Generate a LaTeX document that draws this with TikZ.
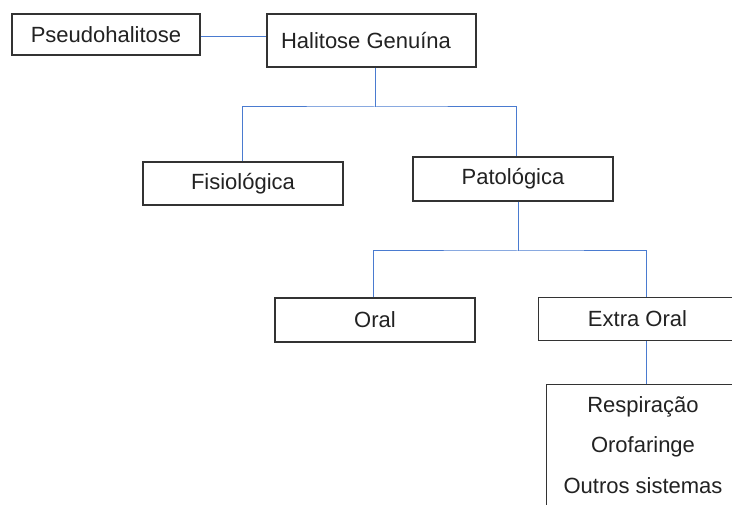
\documentclass[tikz,border=0pt]{standalone}
\usepackage{fontspec}
\setmainfont{Liberation Sans}
\definecolor{conncol}{HTML}{4A7BD0}
\definecolor{boxcol}{HTML}{333333}
\definecolor{txtcol}{HTML}{222222}
\begin{document}
\begin{tikzpicture}[x=1pt,y=-1pt,
  box/.style={draw=boxcol,line width=1.3pt,fill=white,inner sep=0pt,text=txtcol,font=\fontsize{22}{26}\selectfont},
  conn/.style={draw=conncol,line width=1pt},
  txt/.style={inner sep=0pt,text=txtcol,font=\fontsize{22}{26}\selectfont}]
\useasboundingbox (0,0) rectangle (732,505);
\clip (0,0) rectangle (732,505);
\fill[white] (0,0) rectangle (732,505);
% connectors
\coordinate (j1) at (375,107);
\coordinate (j2) at (518,251);
\node[box,minimum width=188pt,minimum height=41pt] (ps) at (106,34.5) {Pseudohalitose};
\node[box,minimum width=209pt,minimum height=53pt] (hg) at (371.5,40.5) {};
\node[txt] (hgt) at (366,40.5) {Halitose Genuína};
\node[box,minimum width=200pt,minimum height=43pt] (fis) at (243,183.5) {Fisiológica};
\node[box,minimum width=200pt,minimum height=44pt] (pat) at (513,179) {Patológica};
\node[box,minimum width=200pt,minimum height=44pt] (oral) at (375,320) {Oral};
\node[box,anchor=north west,minimum width=210pt,minimum height=43pt] (ext) at (538,297) {};
\node[txt] (extt) at (637.5,318.5) {Extra Oral};
\node[box,anchor=north west,minimum width=210pt,minimum height=140pt] (bot) at (546,384) {};
\node[txt] (r1) at (643,407) {Respiração};
\node[txt] (r2) at (643,447) {Orofaringe};
\node[txt] (r3) at (643,486) {Outros sistemas};
\begin{scope}[on background layer/.try]
\end{scope}
\draw[conn] (ps.east |- 0,37) -- (hg.west |- 0,37);
\draw[conn] (hg.south -| j1) -- (j1);
\draw[conn] (fis.north -| 242,0) |- (j1) -| (pat.north -| 516,0);
\draw[conn] (pat.south -| j2) -- (j2);
\draw[conn] (oral.north -| 373,0) |- (j2) -| (ext.north -| 646,0);
\draw[conn] (ext.south -| 646,0) -- (bot.north -| 646,0);
\end{tikzpicture}
\end{document}
